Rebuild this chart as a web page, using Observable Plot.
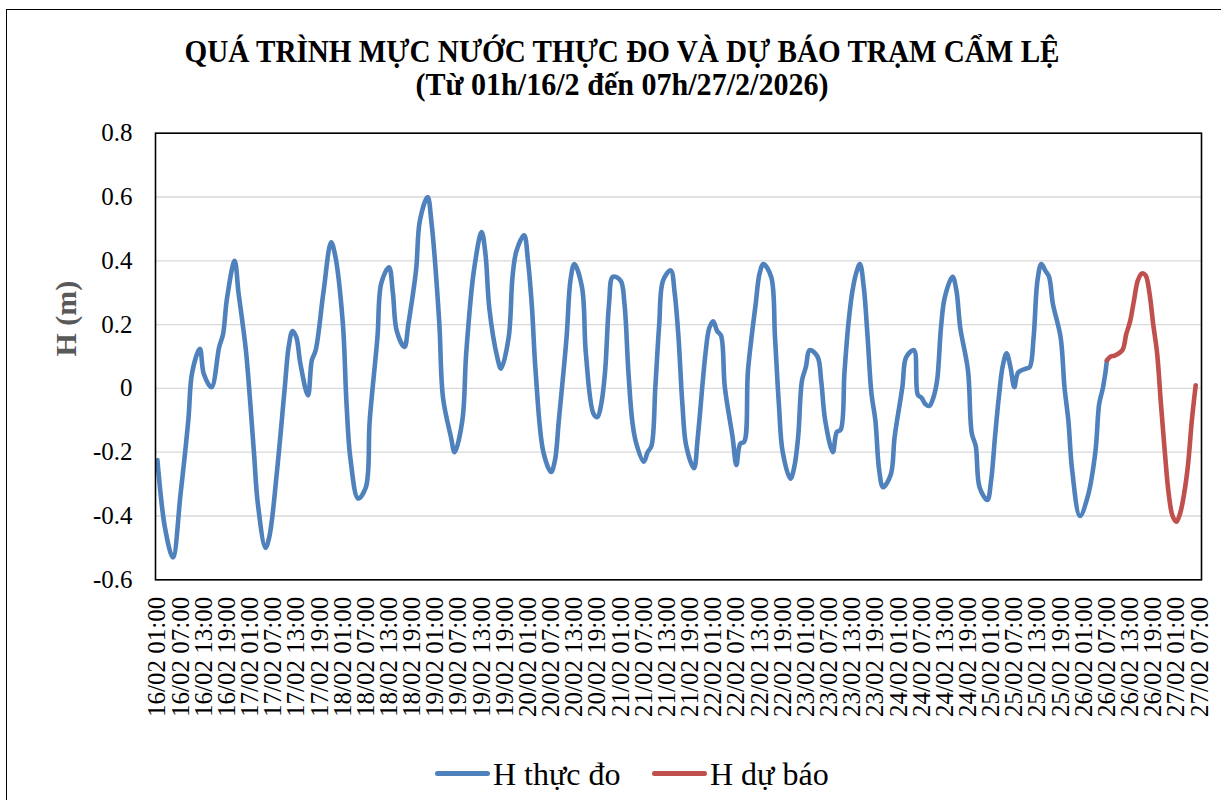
<!DOCTYPE html>
<html>
<head>
<meta charset="utf-8">
<script src="https://cdn.jsdelivr.net/npm/d3@7"></script>
<script src="https://cdn.jsdelivr.net/npm/@observablehq/plot@0.6"></script>
<style>
  html, body { margin: 0; padding: 0; background: #fff; }
  #wrap { position: relative; width: 1221px; height: 800px; overflow: hidden; font-family: "Liberation Serif", "Times New Roman", serif; }
  #border { position: absolute; left: 6px; top: 9px; width: 1300px; height: 900px; border-left: 1.5px solid #000; border-top: 1.5px solid #000; }
  .ttl { position: absolute; left: 22px; width: 1200px; text-align: center; font-weight: bold; font-size: 31px; line-height: 31px; color: #000; white-space: nowrap; }
  #chart { position: absolute; left: 0; top: 100px; }
  #chart svg, #chart svg text { font-family: "Liberation Serif", "Times New Roman", serif !important; }
  .sw { position: absolute; height: 5px; border-radius: 3px; }
  .lt { position: absolute; font-size: 32px; line-height: 32px; color: #000; white-space: nowrap; }
</style>
</head>
<body>
<div id="wrap">
  <div id="border"></div>
  <div class="ttl" style="top:36px; transform: scaleX(0.94)">QUÁ TRÌNH MỰC NƯỚC THỰC ĐO VÀ DỰ BÁO TRẠM CẨM LỆ</div>
  <div class="ttl" style="top:69px; transform: scaleX(0.97)">(Từ 01h/16/2 đến 07h/27/2/2026)</div>
  <div id="chart"></div>
  <div class="sw" style="left:435px; top:771px; width:55px; background:#4f81bd"></div>
  <div class="lt" style="left:493px; top:758px">H thực đo</div>
  <div class="sw" style="left:652px; top:771px; width:55px; background:#c0504d"></div>
  <div class="lt" style="left:710px; top:758px">H dự báo</div>
</div>
<script>
// Hours since 16/02 01:00 and water level (m)
const obsHours = [0,2,4,6,8,9,11,12,14,16,17,18,20,21,22,23,25,26,28,29,31,33,34,35,36,37,39,40,41,43,45,46,48,49,50,52,54,55,57,58,60,61,62,64,65,67,68,70,71,73,74,76,77,79,80,82,84,85,86,88,89,91,92,93,95,96,97,98,100,102,103,104,106,107,108,110,111,113,114,115,116,117,118,120,121,122,123,124,126,127,128,129,130,131,133,134,135,136,137,139,140,142,143,144,145,146,147,149,150,151,152,153,155,156,157,159,160,161,162,164,165,166,167,168,169,171,172,173,175,176,177,178,179,180,181,182,183,184,185,186,187,188,190,191,193,194,196,197,198,199,200,201,202,203,204,206,207,208,210,211,212,213,215,216,217,218,219,220,221,222,223,225,226,227,228,229,230,231,232,234,235,236,237,239,241,243,244,245,246];
const obsValues = [-0.225,-0.44,-0.53,-0.33,-0.10,0.05,0.124,0.046,0.004,0.13,0.17,0.28,0.40,0.30,0.21,0.11,-0.20,-0.36,-0.50,-0.465,-0.257,0.004,0.13,0.18,0.16,0.08,-0.022,0.088,0.12,0.30,0.458,0.42,0.21,-0.05,-0.22,-0.345,-0.31,-0.10,0.16,0.33,0.38,0.30,0.18,0.13,0.20,0.37,0.526,0.60,0.52,0.21,-0.03,-0.15,-0.20,-0.10,0.11,0.37,0.49,0.42,0.25,0.10,0.062,0.16,0.35,0.43,0.48,0.40,0.26,0.05,-0.20,-0.262,-0.225,-0.10,0.16,0.338,0.39,0.317,0.11,-0.08,-0.09,-0.048,0.056,0.265,0.35,0.338,0.265,0.056,-0.10,-0.17,-0.23,-0.20,-0.18,0.004,0.20,0.338,0.37,0.30,0.16,-0.048,-0.18,-0.25,-0.152,0.11,0.19,0.21,0.18,0.166,0.004,-0.152,-0.24,-0.173,-0.168,0.056,0.265,0.36,0.39,0.35,0.16,-0.048,-0.20,-0.283,-0.246,-0.152,0.025,0.067,0.12,0.10,0.02,-0.10,-0.20,-0.137,-0.13,0.05,0.20,0.30,0.36,0.39,0.317,0.16,-0.017,-0.10,-0.257,-0.31,-0.27,-0.152,0.004,0.098,0.12,-0.02,-0.03,-0.05,-0.055,-0.03,0.025,0.19,0.286,0.35,0.307,0.19,0.056,-0.142,-0.18,-0.31,-0.35,-0.288,-0.152,-0.027,0.07,0.11,0.067,0.004,0.05,0.062,0.067,0.16,0.338,0.39,0.37,0.35,0.265,0.16,0.004,-0.10,-0.257,-0.40,-0.34,-0.20,-0.048,0.004,0.088];
const fcHours = [246,247,248,250,251,252,253,254,255,256,257,258,259,260,261,262,263,264,265,266,267,268,269];
const fcValues = [0.088,0.10,0.103,0.12,0.17,0.21,0.275,0.338,0.36,0.355,0.30,0.20,0.11,-0.05,-0.20,-0.33,-0.40,-0.418,-0.39,-0.33,-0.24,-0.10,0.01];
const xTickLabels = ["16/02 01:00","16/02 07:00","16/02 13:00","16/02 19:00","17/02 01:00","17/02 07:00","17/02 13:00","17/02 19:00","18/02 01:00","18/02 07:00","18/02 13:00","18/02 19:00","19/02 01:00","19/02 07:00","19/02 13:00","19/02 19:00","20/02 01:00","20/02 07:00","20/02 13:00","20/02 19:00","21/02 01:00","21/02 07:00","21/02 13:00","21/02 19:00","22/02 01:00","22/02 07:00","22/02 13:00","22/02 19:00","23/02 01:00","23/02 07:00","23/02 13:00","23/02 19:00","24/02 01:00","24/02 07:00","24/02 13:00","24/02 19:00","25/02 01:00","25/02 07:00","25/02 13:00","25/02 19:00","26/02 01:00","26/02 07:00","26/02 13:00","26/02 19:00","27/02 01:00","27/02 07:00"];
const yTicks = [-0.6,-0.4,-0.2,0,0.2,0.4,0.6,0.8];
const yTickLabels = ["-0.6","-0.4","-0.2","0","0.2","0.4","0.6","0.8"];
const seriesNames = ["H thực đo","H dự báo"];
const seriesColors = ["#4f81bd","#c0504d"];

const obs = obsHours.map((h, i) => ({h, v: obsValues[i]}));
const fc = fcHours.map((h, i) => ({h, v: fcValues[i]}));
const xTicks = xTickLabels.map((_, i) => i * 6);
const serif = "Liberation Serif";

const chart = Plot.plot({
  width: 1221,
  height: 640,
  marginLeft: 155,
  marginRight: 20,
  marginTop: 32.7,
  marginBottom: 160.7,
  style: "font-family: 'Liberation Serif', serif; font-size: 25px; color: #000; background: transparent; overflow: visible;",
  x: {type: "linear", domain: [-0.5, 270.5]},
  y: {domain: [-0.6, 0.8]},
  marks: [
    Plot.gridY({ticks: yTicks, stroke: "#d9d9d9", strokeOpacity: 1, strokeWidth: 1.3}),
    Plot.axisY({ticks: yTicks, tickFormat: d => yTickLabels[yTicks.indexOf(d)], tickSize: 0, tickPadding: 23, fontSize: 25, fontFamily: serif, fontVariant: "normal", label: null}),
    Plot.axisX({ticks: xTicks, tickFormat: d => xTickLabels[d / 6], tickRotate: -90, tickSize: 0, tickPadding: 17, fontSize: 25, fontFamily: serif, fontVariant: "normal", label: null}),
    Plot.line(obs, {x: "h", y: "v", stroke: seriesColors[0], strokeWidth: 4.6, curve: "catmull-rom", strokeLinejoin: "round", strokeLinecap: "round"}),
    Plot.line(fc, {x: "h", y: "v", stroke: seriesColors[1], strokeWidth: 4.6, curve: "catmull-rom", strokeLinejoin: "round", strokeLinecap: "round"}),
    Plot.frame({stroke: "#000", strokeWidth: 1.6}),
    Plot.text(["H (m)"], {frameAnchor: "left", text: d => d, rotate: -90, dx: -89, fontSize: 30, fontWeight: "bold", fontFamily: serif, fill: "#595959"})
  ]
});
document.getElementById("chart").appendChild(chart);
</script>
</body>
</html>
